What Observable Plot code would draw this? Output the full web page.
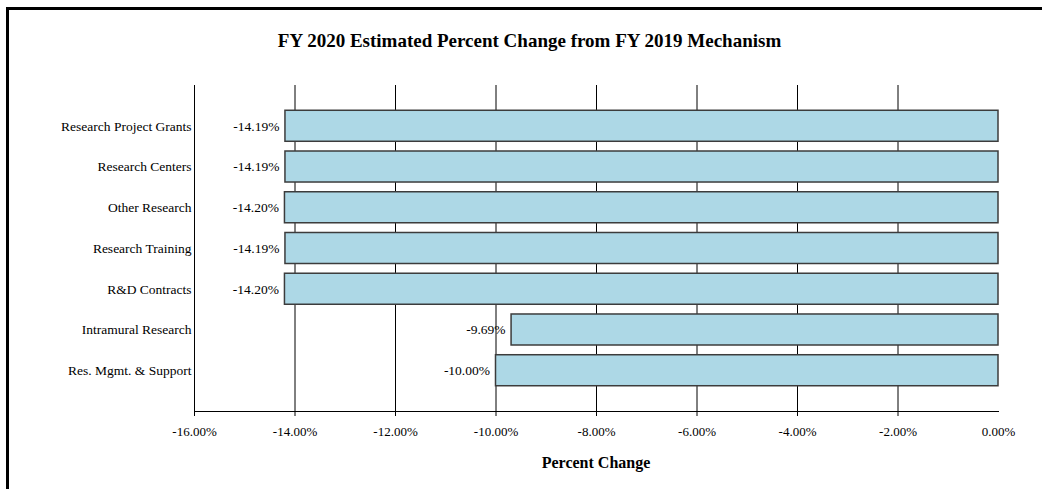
<!DOCTYPE html>
<html>
<head>
<meta charset="utf-8">
<script src="https://cdn.jsdelivr.net/npm/d3@7"></script>
<script src="https://cdn.jsdelivr.net/npm/@observablehq/plot@0.6"></script>
<style>
  html, body { margin: 0; padding: 0; background: #fff; }
  #wrap { position: relative; width: 1042px; height: 489px; overflow: hidden; font-family: "Liberation Serif", "Times New Roman", serif; }
  #border { position: absolute; left: 6px; top: 7px; width: 1100px; height: 600px; border-left: 3px solid #000; border-top: 3px solid #000; box-sizing: border-box; }
  #title { position: absolute; left: 0; width: 1059px; top: 30px; text-align: center; font-weight: bold; font-size: 19px; line-height: 22px; color: #000; }
  #xlabel { position: absolute; left: 0; width: 1192px; top: 453px; text-align: center; font-weight: bold; font-size: 16px; line-height: 20px; color: #000; }
  #chart { position: absolute; left: 0; top: 0; }
</style>
</head>
<body>
<div id="wrap">
  <div id="border"></div>
  <div id="chart"></div>
  <div id="title">FY 2020 Estimated Percent Change from FY 2019 Mechanism</div>
  <div id="xlabel">Percent Change</div>
</div>
<script>
const categories = [
  "Research Project Grants",
  "Research Centers",
  "Other Research",
  "Research Training",
  "R&D Contracts",
  "Intramural Research",
  "Res. Mgmt. & Support"
];
const values = [-14.19, -14.19, -14.20, -14.19, -14.20, -9.69, -10.00];
const xTicks = [-16, -14, -12, -10, -8, -6, -4, -2, 0];

const data = categories.map((c, i) => ({category: c, value: values[i]}));
const pct = d => d.toFixed(2) + "%";

const chart = Plot.plot({
  width: 1042,
  height: 489,
  marginLeft: 194,
  marginRight: 44,
  marginTop: 85,
  marginBottom: 78,
  style: {fontFamily: "'Liberation Serif', 'Times New Roman', serif", fontSize: "13px", background: "transparent", color: "#000", overflow: "visible"},
  x: {domain: [-16, 0], ticks: xTicks, tickFormat: pct, label: null},
  y: {domain: categories, paddingInner: 0.239, paddingOuter: 0.62, round: false, label: null},
  marks: [
    Plot.ruleX(xTicks.slice(0, -1), {stroke: "#000", strokeWidth: 1}),
    Plot.frame({anchor: "bottom", stroke: "#000", strokeWidth: 1}),
    Plot.axisX({ticks: xTicks.slice(0, -1), tickFormat: pct, tickSize: 5, tickPadding: 10, label: null, stroke: "#000"}),
    Plot.axisX({ticks: [0], tickFormat: pct, tickSize: 0, tickPadding: 15, label: null}),
    Plot.axisY({tickSize: 0, tickPadding: 3, label: null, fontSize: 13.5}),
    Plot.barX(data, {x: "value", y: "category", fill: "#add8e6", stroke: "#3c3c3c", strokeWidth: 1.5, insetTop: 0, insetBottom: 0}),
    Plot.text(data, {x: "value", y: "category", text: d => pct(d.value), textAnchor: "end", dx: -6, fill: "#000", fontSize: 13.5})
  ]
});
document.getElementById("chart").appendChild(chart);
</script>
</body>
</html>
